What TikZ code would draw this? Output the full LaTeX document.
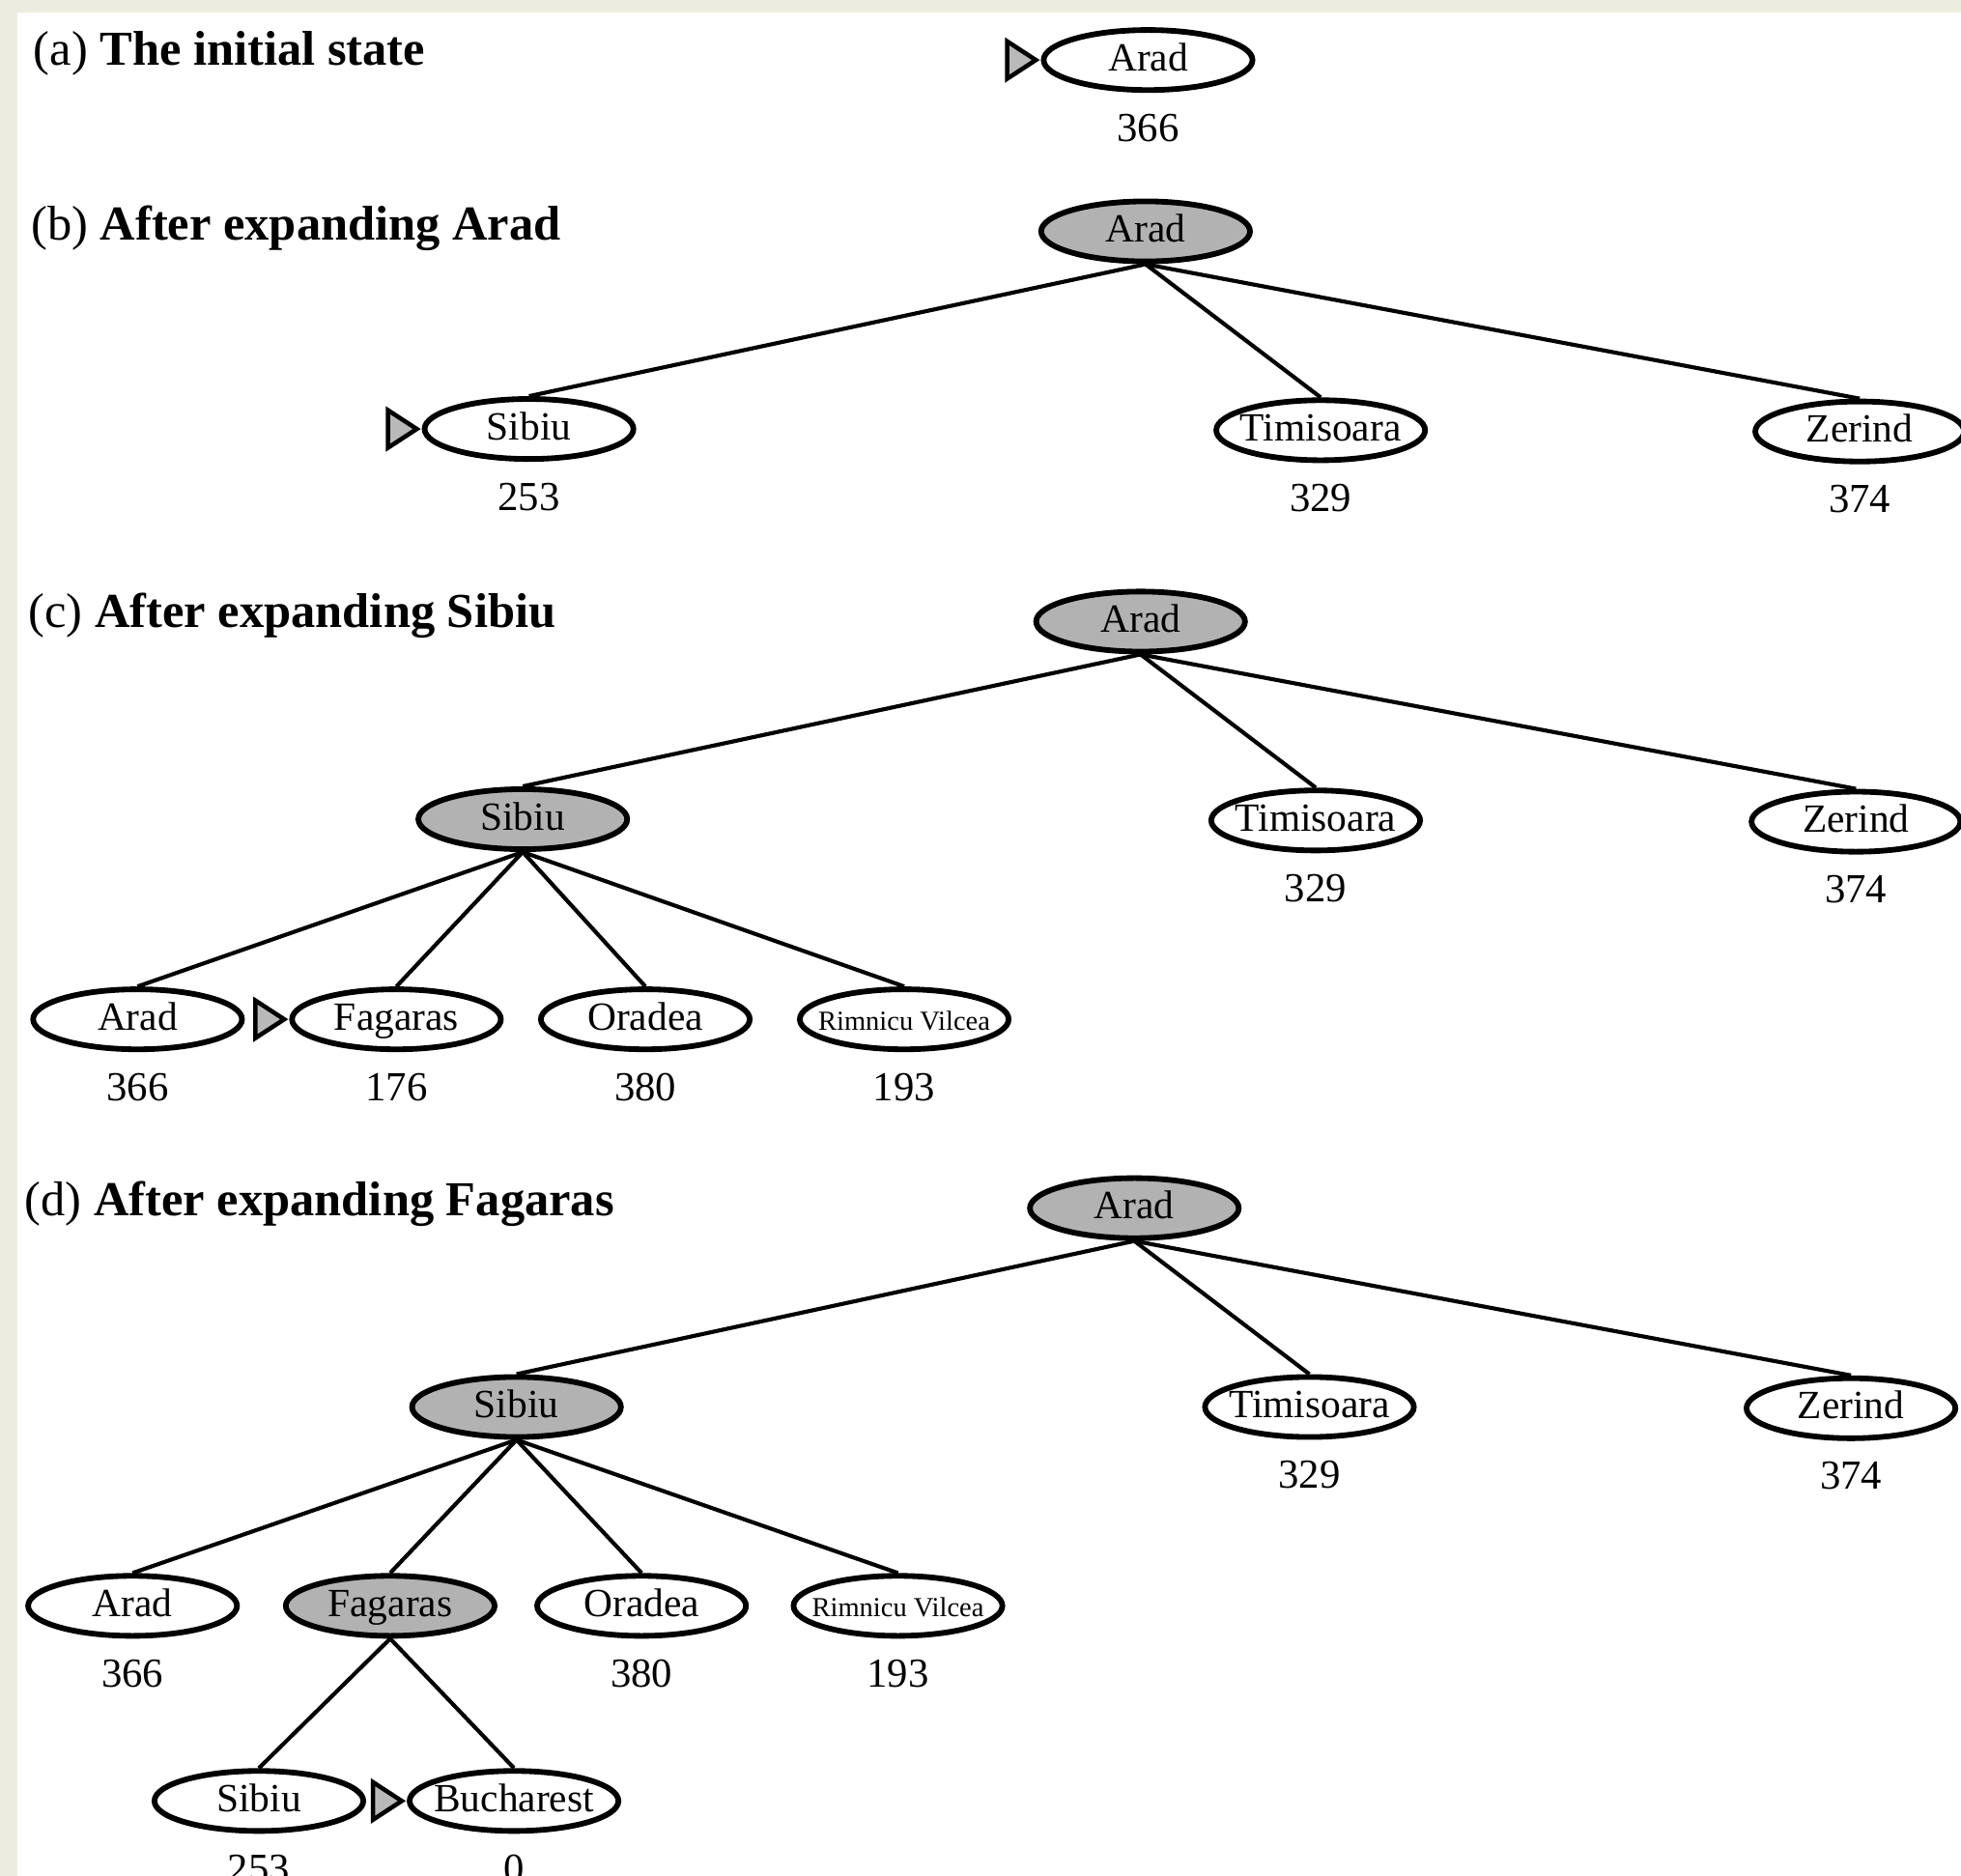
\documentclass[tikz,border=0pt]{standalone}
\usepackage{fontspec}
\setmainfont{Liberation Serif}
\usetikzlibrary{positioning,shapes.geometric}
\definecolor{paper}{RGB}{236,236,224}
\begin{document}
\begin{tikzpicture}[x=1pt,y=-1pt,
  city/.style={draw,ellipse,line width=4.5pt,minimum width=167pt,minimum height=48pt,inner ysep=0pt,inner xsep=-10pt,text height=23pt,text depth=6pt,font=\fontsize{32}{36}\selectfont},
  done/.style={city,fill=gray!60},
  small/.style={font=\fontsize{22}{24}\selectfont,inner xsep=-12pt},
  cost/.style={below=12pt of #1,font=\fontsize{33}{36}\selectfont},
  frontier/.style={draw,fill=gray!55,line width=3.5pt,line join=miter},
  title/.style={anchor=base west,font=\fontsize{39}{44}\selectfont}]
\useasboundingbox (0,0) rectangle (1568,1500);
\clip (0,0) rectangle (1568,1500);
\fill[paper] (0,0) rectangle (1568,1500);
\fill[white] (14,10) rectangle (1568,1500);
\pgfsetlinewidth{3.2pt}
% (a)
\node[title] (ta) at (22,52) {(a) \textbf{The initial state}};
\node[city] (a0) at (918,48) {Arad};
\node[cost=a0] {366};
\draw[frontier] ([xshift=-4pt]a0.west) -- ++(-23,-15) -- ++(0,30) -- cycle;
% (b)
\node[title] (tb) at (20,192) {(b) \textbf{After expanding Arad}};
\node[done] (b0) at (916,185) {Arad};
\node[city] (b1) at (423,343) {Sibiu};
\node[city] (b2) at (1056,344) {Timisoara};
\node[city] (b3) at (1487,345) {Zerind};
\node[cost=b1] {253};
\node[cost=b2] {329};
\node[cost=b3] {374};
\draw[frontier] ([xshift=-4pt]b1.west) -- ++(-23,-15) -- ++(0,30) -- cycle;
\foreach \k in {1,2,3} \draw (b0.south) -- (b\k.north);
% (c)
\node[title] (tc) at (18,502) {(c) \textbf{After expanding Sibiu}};
\node[done] (c0) at (912,497) {Arad};
\node[done] (c1) at (418,655) {Sibiu};
\node[city] (c2) at (1052,656) {Timisoara};
\node[city] (c3) at (1484,657) {Zerind};
\node[city] (c4) at (110,815) {Arad};
\node[city] (c5) at (317,815) {Fagaras};
\node[city] (c6) at (516,815) {Oradea};
\node[city,small] (c7) at (723,815) {Rimnicu Vilcea};
\node[cost=c2] {329};
\node[cost=c3] {374};
\node[cost=c4] {366};
\node[cost=c5] {176};
\node[cost=c6] {380};
\node[cost=c7] {193};
\draw[frontier] ([xshift=-4pt]c5.west) -- ++(-23,-15) -- ++(0,30) -- cycle;
\foreach \k in {1,2,3} \draw (c0.south) -- (c\k.north);
\foreach \k in {4,5,6,7} \draw (c1.south) -- (c\k.north);
% (d)
\node[title] (td) at (15,972) {(d) \textbf{After expanding Fagaras}};
\node[done] (d0) at (907,966) {Arad};
\node[done] (d1) at (413,1125) {Sibiu};
\node[city] (d2) at (1047,1125) {Timisoara};
\node[city] (d3) at (1480,1126) {Zerind};
\node[city] (d4) at (106,1284) {Arad};
\node[done] (d5) at (312,1284) {Fagaras};
\node[city] (d6) at (513,1284) {Oradea};
\node[city,small] (d7) at (718,1284) {Rimnicu Vilcea};
\node[city] (d8) at (207,1440) {Sibiu};
\node[city] (d9) at (411,1440) {Bucharest};
\node[cost=d2] {329};
\node[cost=d3] {374};
\node[cost=d4] {366};
\node[cost=d6] {380};
\node[cost=d7] {193};
\node[cost=d8] {253};
\node[cost=d9] {0};
\draw[frontier] ([xshift=-4pt]d9.west) -- ++(-23,-15) -- ++(0,30) -- cycle;
\foreach \k in {1,2,3} \draw (d0.south) -- (d\k.north);
\foreach \k in {4,5,6,7} \draw (d1.south) -- (d\k.north);
\foreach \k in {8,9} \draw (d5.south) -- (d\k.north);
\end{tikzpicture}
\end{document}
